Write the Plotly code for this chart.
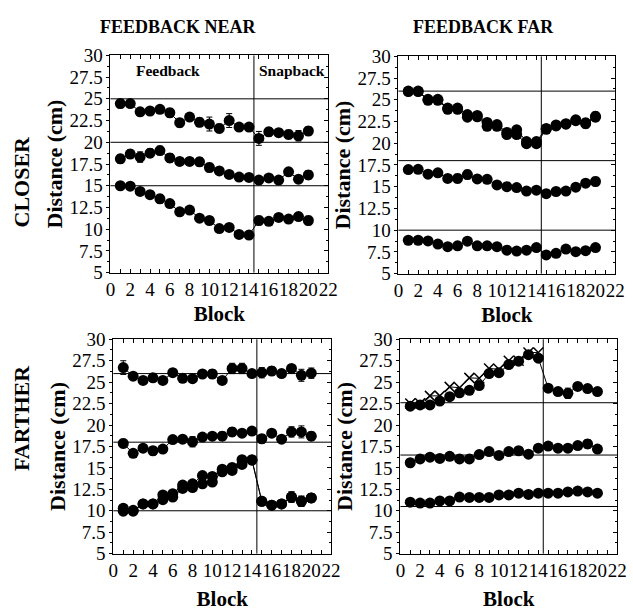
import plotly.graph_objects as go

blocks = list(range(1, 21))

# ---- Feedback NEAR / CLOSER (top-left)
tl_top = [24.45, 24.45, 23.5, 23.6, 23.8, 23.4, 22.25, 22.9, 22.3, 22.1, 21.6, 22.5, 21.75, 21.75, 20.45, 21.2, 21.1, 20.9, 20.75, 21.3]
tl_top_err = [0.5, 0.4, 0.4, 0.3, 0.4, 0.5, 0.5, 0.4, 0.5, 0.8, 0.5, 0.8, 0.4, 0.4, 0.8, 0.5, 0.4, 0.5, 0.6, 0.5]
tl_mid = [18.1, 18.65, 18.3, 18.75, 19.05, 18.2, 17.8, 17.8, 17.75, 17.1, 16.7, 16.3, 16.0, 15.95, 15.65, 15.9, 15.65, 16.6, 15.75, 16.25]
tl_mid_err = [0.5, 0.5, 0.6, 0.5, 0.5, 0.5, 0.4, 0.3, 0.5, 0.5, 0.4, 0.4, 0.3, 0.4, 0.4, 0.3, 0.4, 0.4, 0.4, 0.5]
tl_bot = [15.0, 14.95, 14.35, 13.97, 13.5, 12.95, 12.0, 12.2, 11.27, 11.0, 10.07, 10.2, 9.4, 9.33, 11.0, 10.9, 11.35, 11.16, 11.46, 11.0]
tl_bot_err = [0.2, 0.2, 0.3, 0.3, 0.5, 0.3, 0.3, 0.3, 0.3, 0.3, 0.3, 0.3, 0.3, 0.3, 0.5, 0.4, 0.3, 0.4, 0.3, 0.5]
tl_refs = [25, 20, 15]

# ---- Feedback FAR / CLOSER (top-right)
tr_top_a = [26.0, 26.0, 25.05, 25.05, 24.05, 24.05, 23.3, 23.2, 22.4, 22.15, 21.25, 21.55, 20.2, 20.2, 21.7, 22.1, 22.25, 22.7, 22.35, 23.1]
tr_top_b = [25.95, 25.95, 24.95, 24.95, 23.9, 23.9, 23.0, 23.05, 21.95, 21.95, 21.0, 21.0, 19.95, 19.95, 21.6, 22.0, 22.2, 22.6, 22.25, 23.0]
tr_top_err = [0.2, 0.2, 0.2, 0.2, 0.2, 0.2, 0.3, 0.2, 0.4, 0.3, 0.3, 0.4, 0.3, 0.3, 0.4, 0.4, 0.3, 0.4, 0.5, 0.5]
tr_mid = [16.97, 17.0, 16.44, 16.6, 15.95, 15.95, 16.4, 15.9, 15.85, 15.2, 15.0, 14.9, 14.5, 14.6, 14.2, 14.45, 14.5, 14.95, 15.4, 15.6]
tr_mid_err = [0.4, 0.4, 0.4, 0.3, 0.4, 0.5, 0.5, 0.4, 0.3, 0.4, 0.4, 0.3, 0.3, 0.3, 0.4, 0.3, 0.3, 0.3, 0.3, 0.5]
tr_bot = [8.84, 8.84, 8.76, 8.4, 8.1, 8.2, 8.73, 8.2, 8.2, 8.1, 7.7, 7.6, 7.7, 8.0, 7.15, 7.33, 7.83, 7.53, 7.64, 8.0]
tr_bot_err = [0.3, 0.3, 0.3, 0.3, 0.2, 0.3, 0.2, 0.3, 0.2, 0.3, 0.2, 0.2, 0.2, 0.2, 0.2, 0.2, 0.2, 0.2, 0.2, 0.3]
tr_refs = [26, 18, 10]

# ---- Feedback NEAR / FARTHER (bottom-left)
bl_top = [26.7, 25.7, 25.2, 25.5, 25.2, 26.1, 25.45, 25.4, 25.95, 25.95, 25.2, 26.6, 26.6, 26.0, 26.1, 26.3, 26.0, 26.6, 25.8, 26.05]
bl_top_err = [0.8, 0.4, 0.4, 0.3, 0.4, 0.4, 0.4, 0.3, 0.3, 0.5, 0.4, 0.6, 0.6, 0.4, 0.6, 0.5, 0.4, 0.3, 0.7, 0.6]
bl_mid = [17.85, 16.7, 17.3, 17.0, 17.2, 18.3, 18.35, 18.05, 18.6, 18.7, 18.7, 19.2, 19.05, 19.3, 18.4, 19.05, 18.35, 19.2, 19.2, 18.7]
bl_mid_err = [0.5, 0.4, 0.4, 0.5, 0.4, 0.3, 0.3, 0.6, 0.4, 0.4, 0.5, 0.5, 0.4, 0.3, 0.5, 0.4, 0.4, 0.6, 0.7, 0.5]
bl_bot_a = [10.3, 10.05, 10.8, 10.8, 11.85, 12.0, 13.0, 13.15, 14.1, 14.0, 14.85, 15.05, 15.95, 15.95, 11.1, 10.65, 10.8, 11.6, 11.1, 11.5]
bl_bot_b = [9.95, 9.95, 10.8, 10.8, 11.3, 11.6, 12.6, 12.7, 13.15, 13.35, 14.55, 14.7, 15.4, 15.9, 11.1, 10.65, 10.8, 11.6, 11.1, 11.5]
bl_bot_err = [0.2, 0.2, 0.2, 0.2, 0.2, 0.2, 0.2, 0.2, 0.2, 0.2, 0.2, 0.2, 0.2, 0.2, 0.3, 0.3, 0.3, 0.6, 0.6, 0.5]
bl_refs = [26, 18, 10]

# ---- Feedback FAR / FARTHER (bottom-right)
br_top_x = [22.5, 22.55, 23.4, 23.4, 24.45, 24.35, 25.5, 25.45, 26.6, 26.5, 27.5, 27.5, 28.45, 28.45]
br_top = [22.2, 22.35, 22.35, 22.8, 23.3, 23.75, 24.05, 24.6, 26.0, 26.1, 27.05, 27.45, 28.2, 27.8, 24.3, 23.9, 23.7, 24.5, 24.25, 23.9]
br_top_err = [0.3, 0.3, 0.4, 0.3, 0.3, 0.3, 0.3, 0.3, 0.3, 0.3, 0.3, 0.3, 0.3, 0.3, 0.4, 0.4, 0.6, 0.4, 0.4, 0.3]
br_mid = [15.6, 16.05, 16.25, 16.1, 16.35, 16.05, 16.05, 16.55, 16.9, 16.45, 16.9, 17.0, 16.6, 17.3, 17.55, 17.3, 17.3, 17.6, 17.8, 17.2]
br_mid_err = [0.3, 0.2, 0.2, 0.3, 0.2, 0.3, 0.3, 0.4, 0.3, 0.2, 0.3, 0.4, 0.4, 0.3, 0.4, 0.4, 0.3, 0.3, 0.5, 0.4]
br_bot = [11.0, 10.9, 10.9, 11.15, 11.15, 11.6, 11.55, 11.55, 11.55, 11.85, 11.85, 12.05, 11.9, 12.05, 12.05, 12.05, 12.2, 12.3, 12.2, 12.05]
br_bot_err = [0.2, 0.2, 0.2, 0.2, 0.2, 0.3, 0.3, 0.3, 0.2, 0.2, 0.2, 0.3, 0.3, 0.2, 0.2, 0.3, 0.2, 0.3, 0.2, 0.3]
br_refs = [22.6, 16.5, 10.5]

phase_split = 14.5
x_ticks = list(range(0, 23, 2))
y_ticks = [5, 7.5, 10, 12.5, 15, 17.5, 20, 22.5, 25, 27.5, 30]
y_tick_text = ["5", "7.5", "10", "12.5", "15", "17.5", "20", "22.5", "25", "27.5", "30"]
y_minor = [6.25, 8.75, 11.25, 13.75, 16.25, 18.75, 21.25, 23.75, 26.25, 28.75]

W, H = 633, 611
FONT = "Liberation Serif, Times New Roman, Tinos, DejaVu Serif, serif"

# panel pixel boxes (left, top, right, bottom)
panels = [
    (108, 47, 331, 272),
    (403, 48, 625, 273),
    (111, 341, 334, 563),
    (405, 341, 627, 563),
]
block_standoff = [6, 6, 12, 12]

fig = go.Figure()

def dots(i, y, err=None, symbol="circle", size=11, xs=None):
    xs = blocks[:len(y)] if xs is None else xs
    fig.add_trace(go.Scatter(
        x=xs, y=y, mode="lines+markers",
        xaxis=f"x{i if i > 1 else ''}", yaxis=f"y{i if i > 1 else ''}",
        line=dict(color="black", width=1),
        marker=dict(symbol=symbol, size=size, color="black",
                    line=dict(color="black", width=1.5 if symbol == "x-thin" else 0)),
        error_y=(dict(type="data", array=err, visible=True, color="black",
                      thickness=1, width=3) if err is not None else None),
        showlegend=False, hoverinfo="skip"))

# top-left
dots(1, tl_top, tl_top_err)
dots(1, tl_mid, tl_mid_err)
dots(1, tl_bot, tl_bot_err)
# top-right
dots(2, tr_top_b, tr_top_err)
dots(2, tr_top_a, tr_top_err)
dots(2, tr_mid, tr_mid_err)
dots(2, tr_bot, tr_bot_err)
# bottom-left
dots(3, bl_top, bl_top_err)
dots(3, bl_mid, bl_mid_err)
dots(3, bl_bot_b, bl_bot_err)
dots(3, bl_bot_a, bl_bot_err)
# bottom-right
dots(4, br_top, br_top_err)
dots(4, br_top_x, None, symbol="x-thin", size=10)
dots(4, br_mid, br_mid_err)
dots(4, br_bot, br_bot_err)

# empty traces so the right-side tick axes are drawn
for i in range(1, 5):
    fig.add_trace(go.Scatter(x=[None], y=[None], xaxis=f"x{i if i > 1 else ''}", yaxis=f"y{i + 4}",
                             mode="markers", showlegend=False, hoverinfo="skip"))

refs_all = [tl_refs, tr_refs, bl_refs, br_refs]
shapes = []
for i, refs in enumerate(refs_all, start=1):
    xr = f"x{i if i > 1 else ''}"
    yr = f"y{i if i > 1 else ''}"
    for r in refs:
        shapes.append(dict(type="line", xref=f"{xr} domain", yref=yr, x0=0, x1=1, y0=r, y1=r,
                           line=dict(color="black", width=1)))
    shapes.append(dict(type="line", xref=xr, yref=f"{yr} domain", x0=phase_split, x1=phase_split,
                       y0=0, y1=1, line=dict(color="black", width=1)))

layout = dict(width=W, height=H, margin=dict(l=0, r=0, t=0, b=0),
              paper_bgcolor="white", plot_bgcolor="white",
              font=dict(family=FONT, color="black", size=18), shapes=shapes)

for i, (l, t, r, b) in enumerate(panels, start=1):
    sfx = str(i) if i > 1 else ""
    layout[f"xaxis{sfx}"] = dict(
        domain=[l / W, r / W], anchor=f"y{sfx}", range=[0, 22],
        tickvals=x_ticks, ticks="inside", ticklen=4, tickcolor="black", tickangle=0,
        minor=dict(dtick=1, ticks="inside", ticklen=3, tickcolor="black"),
        showline=True, linecolor="black", linewidth=1, mirror="allticks",
        showgrid=False, zeroline=False, tickfont=dict(size=19, family=FONT),
        title=dict(text="Block", font=dict(size=21, family=FONT, weight="bold"),
                   standoff=block_standoff[i - 1]))
    layout[f"yaxis{sfx}"] = dict(
        domain=[1 - b / H, 1 - t / H], anchor=f"x{sfx}", range=[5, 30],
        tickvals=y_ticks, ticktext=y_tick_text, ticks="outside", ticklen=3, tickcolor="black",
        minor=dict(tickvals=y_minor, ticks="outside", ticklen=2, tickcolor="black"),
        showline=True, linecolor="black", linewidth=1, mirror=True,
        showgrid=False, zeroline=False, tickfont=dict(size=19, family=FONT),
        title=dict(text="Distance (cm)", font=dict(size=22, family=FONT, weight="bold"), standoff=0))
    layout[f"yaxis{i + 4}"] = dict(
        overlaying=f"y{sfx}", side="right", anchor=f"x{sfx}", range=[5, 30],
        tickvals=y_ticks, ticks="inside", ticklen=4, tickcolor="black", showticklabels=False,
        minor=dict(tickvals=y_minor, ticks="inside", ticklen=2, tickcolor="black"),
        showline=False, showgrid=False, zeroline=False)

fig.update_layout(**layout)

annots = [
    dict(text="FEEDBACK NEAR", x=178 / W, y=1 - 18 / H),
    dict(text="FEEDBACK FAR", x=490 / W, y=1 - 18 / H),
]
for a in annots:
    fig.add_annotation(xref="paper", yref="paper", x=a["x"], y=a["y"], text=a["text"],
                       showarrow=False, xanchor="center", yanchor="middle",
                       font=dict(size=18, family=FONT, weight="bold"))
for txt, yy in [("CLOSER", 178), ("FARTHER", 423)]:
    fig.add_annotation(xref="paper", yref="paper", x=17 / W, y=1 - yy / H, text=txt,
                       textangle=-90, showarrow=False, xanchor="center", yanchor="middle",
                       font=dict(size=22, family=FONT, weight="bold"))
for txt, xx in [("Feedback", 5.8), ("Snapback", 18.3)]:
    fig.add_annotation(xref="x", yref="y", x=xx, y=28.3, text=txt, showarrow=False,
                       xanchor="center", yanchor="middle",
                       font=dict(size=15.5, family=FONT, weight="bold"))

fig.write_html("out.html")
